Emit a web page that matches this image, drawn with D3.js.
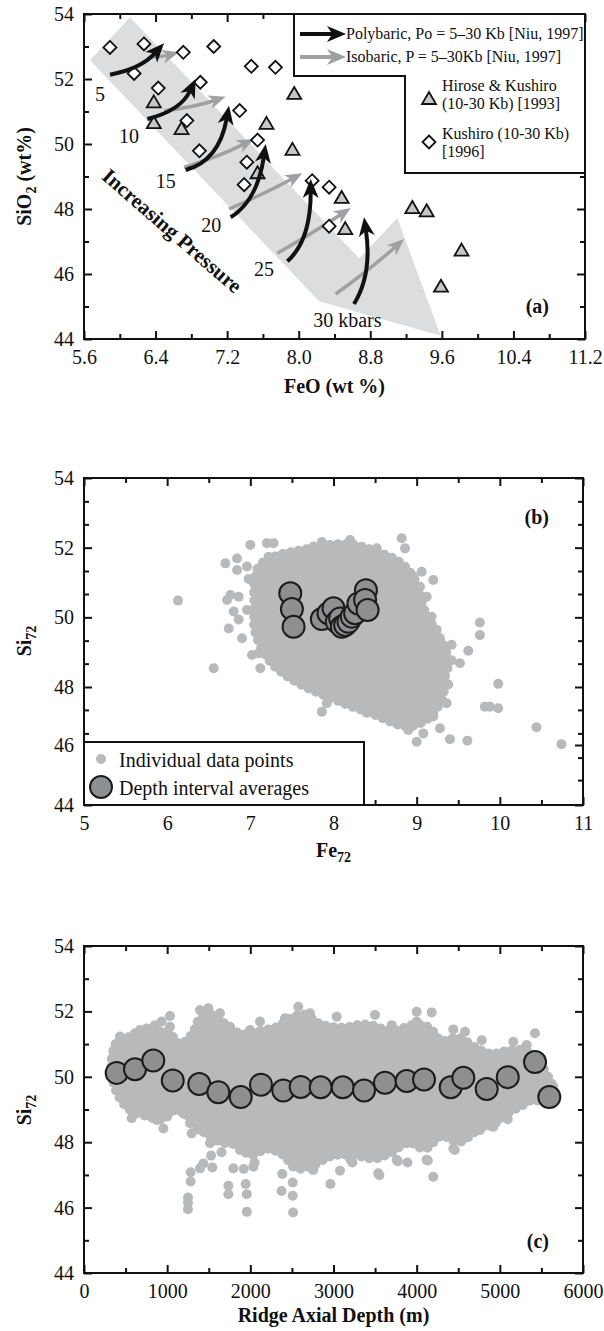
<!DOCTYPE html>
<html>
<head>
<meta charset="utf-8">
<script src="https://cdn.jsdelivr.net/npm/d3@7"></script>
<style>
body{margin:0;background:#fff}
svg{display:block}
</style>
</head>
<body>
<div id="chart"></div>
<script>
var serif='"Liberation Serif","Times New Roman",serif';
var ink='#111';
var cloudGray='#b8b9bb';
var bandGray='#dcdddf';
var isoGray='#9fa0a2';
var avgFill='#8e8f91';

// ---- panel (a) : FeO vs SiO2
var aXTicks=[5.6,6.4,7.2,8.0,8.8,9.6,10.4,11.2];
var aXMinor=[6.0,6.8,7.6,8.4,9.2,10.0,10.8];
var aYTicks=[44,46,48,50,52,54];
var aYMinor=[45,47,49,51,53];

var kushiroFe=[5.89,6.27,6.16,6.71,7.05,6.43,6.90,7.47,7.74,6.75,7.34,6.89,7.54,7.42,7.39,8.15,8.34,8.34];
var kushiroSi=[52.97,53.08,52.17,52.82,53.00,51.72,51.90,52.39,52.36,50.72,51.03,49.79,50.12,49.44,48.75,48.87,48.67,47.47];

var hiroseFe=[6.38,6.38,6.69,7.95,7.64,7.93,7.54,8.48,8.52,9.27,9.43,9.82,9.59];
var hiroseSi=[51.28,50.64,50.46,51.54,50.62,49.82,49.10,48.34,47.38,48.03,47.93,46.72,45.61];

// wide "increasing pressure" band
var bandFe=[6.114,8.677,9.102,9.587,8.227,5.667];
var bandSi=[53.90,46.48,47.72,44.10,45.16,52.58];

// melting paths: [start, bend, tip]
var polyArrows=[
  [[5.891,52.133],[6.233,52.308],[6.494,53.097]],
  [[6.308,50.769],[6.680,51.026],[6.848,52.000]],
  [[6.736,49.200],[7.109,49.487],[7.221,51.179]],
  [[7.239,47.744],[7.537,48.256],[7.631,50.000]],
  [[7.873,46.390],[8.134,47.026],[8.134,48.923]],
  [[8.618,45.077],[8.823,46.000],[8.730,47.744]]
];
var isoArrows=[
  [[6.327,52.667],[6.494,52.700],[6.662,52.821]],
  [[6.494,51.026],[6.829,51.128],[7.183,51.456]],
  [[6.718,49.282],[7.090,49.590],[7.500,50.154]],
  [[7.221,48.000],[7.612,48.462],[8.040,49.097]],
  [[7.761,46.636],[8.171,47.282],[8.581,48.031]],
  [[8.413,45.385],[8.804,46.154],[9.177,47.077]]
];
var pressureLabels=['5','10','15','20','25','30 kbars'];
var pressureFe=[5.779,6.103,6.513,7.023,7.612,8.543];
var pressureSi=[51.54,50.26,48.87,47.52,46.15,44.59];

// ---- panel (b) : Fe72 vs Si72
var bXTicks=[5,6,7,8,9,10,11];
var bXMinor=[5.5,6.5,7.5,8.5,9.5,10.5];
var bYTicks=[54,52,50,48,46,44];
var bYMinor=[53.33,52.67,51.33,50.67,49.33,48.67,47.21,46.40,45.58,44.83];

var avgBFe=[7.48,7.50,7.52,7.86,7.94,8.00,8.04,8.08,8.10,8.14,8.18,8.22,8.26,8.30,8.39,8.38,8.41];
var avgBSi=[50.69,50.24,49.73,49.95,50.12,50.26,49.87,49.97,49.73,49.78,49.87,50.02,50.12,50.40,50.78,50.50,50.21];

var denseBFe=[7.10,7.30,7.55,7.80,8.05,8.30,8.55,8.75,8.90,9.00,9.05,9.12,9.22,9.32,9.38,9.33,9.32,9.25,9.15,9.00,8.85,8.65,8.45,8.20,7.95,7.70,7.45,7.25,7.12,7.05,7.05,7.05];
var denseBSi=[51.45,51.75,51.90,52.00,52.10,52.05,51.85,51.65,51.35,50.95,50.50,50.05,49.65,49.20,48.70,48.20,47.75,47.30,46.95,46.70,46.65,46.85,47.10,47.35,47.65,47.95,48.30,48.70,49.20,49.70,50.30,50.90];

var ptsBFe=[6.13,6.56,7.00,7.20,7.28,6.70,6.84,6.84,6.96,6.72,6.76,6.86,6.96,6.80,6.86,6.74,6.90,7.10,7.02,7.12,7.22,7.08,7.04,6.98,
  8.82,8.86,9.06,9.20,8.96,9.04,9.12,9.76,9.76,9.62,9.42,9.28,9.42,9.52,9.24,9.18,7.76,7.86,8.20,8.32,8.52,8.44,
  9.98,9.82,9.88,9.98,10.44,10.74,9.00,9.40,9.61,9.28,8.90,9.08,9.36,9.38,8.40,7.86,7.92,9.20];
var ptsBSi=[50.48,48.54,52.08,52.13,52.13,51.55,51.69,51.36,51.46,50.50,50.64,50.59,50.21,50.17,49.94,49.68,49.40,48.97,48.92,48.54,51.74,51.17,51.00,51.10,
  52.27,51.98,51.31,51.07,51.17,50.88,50.59,49.85,49.49,49.04,49.21,49.35,48.77,48.68,49.64,50.02,52.03,52.16,52.22,51.94,51.98,51.79,
  48.09,47.32,47.32,47.27,46.61,46.03,46.11,46.20,46.15,46.58,46.52,46.40,47.44,48.07,47.11,47.15,47.44,46.98];

// ---- panel (c) : ridge depth vs Si72
var cXTicks=[0,1000,2000,3000,4000,5000,6000];
var cXMinor=[500,1500,2500,3500,4500,5500];
var cYTicks=[44,46,48,50,52,54];
var cYMinor=[45,47,49,51,53];

var avgDepth=[393,613,833,1067,1386,1615,1884,2128,2396,2606,2846,3111,3367,3619,3880,4088,4409,4561,4842,5095,5423,5595];
var avgSiC=[50.12,50.23,50.50,49.89,49.78,49.53,49.38,49.76,49.58,49.69,49.68,49.68,49.58,49.82,49.87,49.92,49.68,49.97,49.63,49.99,50.45,49.38];

var denseCDepth=[330,380,450,600,800,1000,1150,1300,1400,1550,1700,1900,2100,2300,2500,2650,2850,3100,3400,3700,4000,4150,4300,4500,4700,4900,5100,5300,5450,5600,5650,
  5550,5400,5250,5100,4950,4750,4500,4300,4100,3900,3700,3500,3250,3000,2750,2550,2400,2200,2000,1850,1650,1500,1350,1250,1100,950,750,550,400];
var denseCSi=[50.3,51.0,51.2,51.2,51.3,51.4,51.0,51.3,51.8,51.9,51.6,51.3,51.4,51.5,51.8,51.9,51.6,51.5,51.6,51.4,51.6,51.5,51.1,51.2,50.9,50.7,50.8,50.8,50.5,49.9,49.5,
  49.2,49.3,49.1,48.9,48.6,48.4,48.0,48.2,47.8,48.0,47.7,47.5,47.6,47.6,47.3,47.2,47.6,47.8,47.6,47.9,48.0,48.2,48.5,48.8,49.0,48.7,48.8,49.0,49.5];

var ptsCDepth=[433,373,353,473,573,613,673,754,854,934,1034,1034,954,854,774,874,1154,1194,1134,693,1094,
  1395,1495,1635,1755,2116,2236,2417,2577,2717,1996,2477,3038,3499,3700,4000,4181,4000,
  1275,1295,1395,1515,1655,1755,1876,2236,2517,1395,1435,1796,2036,
  1250,1250,1250,1282,1282,1528,1542,1653,1736,1736,1921,1944,1958,1958,2051,2375,2384,2509,2509,2514,2963,3079,3227,3551,3773,3889,4134,4199,4458,2708,
  4441,4581,4782,5162,5423,5323,5423,5643,5095,5242,4921,4761,4601,4441,4320,4120,3880,3760,3538,3206,2958,2757];
var ptsCSi=[51.23,50.82,49.90,50.21,48.73,51.33,51.43,51.48,51.58,51.69,51.86,51.53,48.42,49.19,48.93,48.68,50.21,48.88,49.53,49.39,49.19,
  52.04,52.10,51.94,51.53,51.69,51.43,51.79,52.14,51.94,51.43,51.23,51.84,51.89,51.58,51.99,51.97,51.69,
  48.58,48.27,48.38,47.97,48.38,48.32,47.76,47.97,47.35,47.20,47.35,47.20,47.25,
  45.95,46.15,46.31,46.80,47.08,47.59,47.23,47.69,46.41,46.67,47.18,46.72,46.41,45.87,47.38,46.51,47.03,46.36,46.77,45.85,46.72,47.13,47.38,46.99,47.42,47.38,47.44,46.94,47.76,47.33,
  51.45,51.38,51.12,51.07,51.33,50.97,49.90,49.70,48.70,49.39,48.47,48.37,48.57,47.81,48.47,47.46,47.97,47.46,47.05,47.46,47.66,47.15];

var svg=d3.select('#chart').append('svg').attr('width',604).attr('height',1331)
  .style('font-family',serif);

function axes(g,x,y,xt,xm,yt,ym,fmt){
  var xr=x.range(), yr=y.range();
  var bottom=yr[0], top=yr[yr.length-1];
  var parts=[
    [d3.axisBottom(x).tickValues(xt).tickSize(-8).tickPadding(11).tickFormat(fmt),'translate(0,'+bottom+')'],
    [d3.axisBottom(x).tickValues(xm).tickSize(-5).tickFormat(''),'translate(0,'+bottom+')'],
    [d3.axisTop(x).tickValues(xt).tickSize(-8).tickFormat(''),'translate(0,'+top+')'],
    [d3.axisTop(x).tickValues(xm).tickSize(-5).tickFormat(''),'translate(0,'+top+')'],
    [d3.axisLeft(y).tickValues(yt).tickSize(-8).tickPadding(10),'translate('+xr[0]+',0)'],
    [d3.axisLeft(y).tickValues(ym).tickSize(-5).tickFormat(''),'translate('+xr[0]+',0)'],
    [d3.axisRight(y).tickValues(yt).tickSize(-8).tickFormat(''),'translate('+xr[1]+',0)'],
    [d3.axisRight(y).tickValues(ym).tickSize(-5).tickFormat(''),'translate('+xr[1]+',0)']
  ];
  parts.forEach(function(p){
    g.append('g').attr('transform',p[1]).call(p[0])
     .attr('font-family',serif).attr('font-size',20);
  });
  g.selectAll('.domain').remove();
  g.selectAll('.tick line').attr('stroke',ink).attr('stroke-width',2);
  g.selectAll('.tick text').attr('fill',ink);
}

function frame(g,x,y){
  var xr=x.range(), yr=y.range();
  g.append('rect').attr('x',xr[0]).attr('y',yr[yr.length-1])
   .attr('width',xr[1]-xr[0]).attr('height',yr[0]-yr[yr.length-1])
   .attr('fill','none').attr('stroke',ink).attr('stroke-width',2);
}

function arrow(g,pts,x,y,color,lw,hl,hw){
  var s=[x(pts[0][0]),y(pts[0][1])], c=[x(pts[1][0]),y(pts[1][1])], e=[x(pts[2][0]),y(pts[2][1])];
  var dx=e[0]-c[0], dy=e[1]-c[1], len=Math.hypot(dx,dy);
  var ux=dx/len, uy=dy/len;
  var bx=e[0]-ux*hl, by=e[1]-uy*hl;
  var p=d3.path();
  p.moveTo(s[0],s[1]);
  p.quadraticCurveTo(c[0],c[1],bx+ux*hl*0.3,by+uy*hl*0.3);
  g.append('path').attr('d',p.toString()).attr('fill','none')
   .attr('stroke',color).attr('stroke-width',lw);
  g.append('path')
   .attr('d','M'+e+'L'+[bx-uy*hw,by+ux*hw]+'L'+[bx+ux*hl*0.28,by+uy*hl*0.28]+'L'+[bx+uy*hw,by-ux*hw]+'Z')
   .attr('fill',color);
}

function cloud(g,denseX,denseY,ptX,ptY,x,y){
  var ring=d3.line().curve(d3.curveCatmullRomClosed)
    .x(function(d,i){return x(denseX[i])}).y(function(d,i){return y(denseY[i])});
  // solid core of overlapping points
  g.append('path').attr('d',ring(denseX))
   .attr('fill',cloudGray).attr('stroke',cloudGray).attr('stroke-width',4).attr('stroke-linejoin','round');
  // scalloped rim: a row of round dots along the edge of the core
  g.append('path').attr('d',ring(denseX))
   .attr('fill','none').attr('stroke',cloudGray).attr('stroke-width',10)
   .attr('stroke-linecap','round').attr('stroke-dasharray','0,8');
  g.append('g').selectAll('circle').data(ptX).enter().append('circle')
   .attr('cx',function(d){return x(d)})
   .attr('cy',function(d,i){return y(ptY[i])})
   .attr('r',5).attr('fill',cloudGray);
}

function subTitle(g,main,sub,rest,attrs){
  var t=g.append('text').attr('font-weight','bold').attr('font-size',20).attr('fill',ink);
  Object.keys(attrs).forEach(function(k){t.attr(k,attrs[k])});
  t.append('tspan').text(main);
  t.append('tspan').attr('font-size',14).attr('dy',5).text(sub);
  if(rest) t.append('tspan').attr('dy',-5).text(rest);
  return t;
}

var diamond='M0,-6.5L6.5,0L0,6.5L-6.5,0Z';
var triangle='M0,-7L7,5L-7,5Z';

// ================= panel (a)
var xA=d3.scaleLinear().domain([5.6,11.2]).range([84,585]);
var yA=d3.scaleLinear().domain([44,54]).range([339,14]);
var ga=svg.append('g');

ga.append('path')
  .attr('d',d3.line().x(function(d,i){return xA(bandFe[i])}).y(function(d,i){return yA(bandSi[i])})(bandFe)+'Z')
  .attr('fill',bandGray);

isoArrows.forEach(function(a){arrow(ga,a,xA,yA,isoGray,3.5,17,7)});

ga.append('g').selectAll('path').data(hiroseFe).enter().append('path')
  .attr('d',triangle)
  .attr('transform',function(d,i){return 'translate('+xA(d)+','+yA(hiroseSi[i])+')'})
  .attr('fill','#c6c7c9').attr('stroke',ink).attr('stroke-width',1.8);

ga.append('g').selectAll('path').data(kushiroFe).enter().append('path')
  .attr('d',diamond)
  .attr('transform',function(d,i){return 'translate('+xA(d)+','+yA(kushiroSi[i])+')'})
  .attr('fill','#fff').attr('stroke',ink).attr('stroke-width',1.8);

polyArrows.forEach(function(a){arrow(ga,a,xA,yA,ink,4,19,8)});

ga.append('g').selectAll('text').data(pressureLabels).enter().append('text')
  .attr('x',function(d,i){return xA(pressureFe[i])})
  .attr('y',function(d,i){return yA(pressureSi[i])})
  .attr('dy','0.35em').attr('text-anchor','middle').attr('font-size',20).attr('fill',ink)
  .text(function(d){return d});

ga.append('text').attr('transform','translate('+xA(6.587)+','+yA(47.333)+') rotate(41)')
  .attr('text-anchor','middle').attr('dy','0.35em').attr('font-size',21).attr('font-weight','bold')
  .attr('fill',ink).text('Increasing Pressure');

axes(ga,xA,yA,aXTicks,aXMinor,aYTicks,aYMinor,d3.format('.1f'));

// legend (a)
ga.append('path').attr('d','M294,14H585V173H405V76H294Z')
  .attr('fill','#fff').attr('stroke',ink).attr('stroke-width',2);
var ident=function(v){return v};
arrow(ga,[[300,34],[320,34],[346,34]],ident,ident,ink,4,19,8);
arrow(ga,[[300,57],[320,57],[346,57]],ident,ident,isoGray,4,19,8);
ga.append('text').attr('x',346).attr('y',39).attr('font-size',16).attr('fill',ink)
  .text('Polybaric, Po = 5\u201330 Kb [Niu, 1997]');
ga.append('text').attr('x',346).attr('y',62).attr('font-size',16).attr('fill',ink)
  .text('Isobaric, P = 5\u201330Kb [Niu, 1997]');
ga.append('path').attr('d',triangle).attr('transform','translate(429,99)')
  .attr('fill','#c6c7c9').attr('stroke',ink).attr('stroke-width',1.8);
ga.append('path').attr('d',diamond).attr('transform','translate(429,142)')
  .attr('fill','#fff').attr('stroke',ink).attr('stroke-width',1.8);
[['Hirose & Kushiro',91],['(10-30 Kb) [1993]',109],['Kushiro (10-30 Kb)',139],['[1996]',157]].forEach(function(r){
  ga.append('text').attr('x',442).attr('y',r[1]).attr('font-size',16).attr('fill',ink).text(r[0]);
});

ga.append('text').attr('x',549).attr('y',313).attr('text-anchor','end')
  .attr('font-size',20).attr('font-weight','bold').attr('fill',ink).text('(a)');
frame(ga,xA,yA);

ga.append('text').attr('x',334.5).attr('y',393).attr('text-anchor','middle')
  .attr('font-size',20).attr('font-weight','bold').attr('fill',ink).text('FeO (wt %)');
subTitle(ga,'SiO','2',' (wt%)',{'transform':'translate(31,176.5) rotate(-90)','text-anchor':'middle'});

// ================= panel (b)
var xB=d3.scaleLinear().domain([5,11]).range([84,583]);
var yB=d3.scaleLinear().domain([44,46,48,54]).range([805,745,687,478]);
var gb=svg.append('g');

cloud(gb,denseBFe,denseBSi,ptsBFe,ptsBSi,xB,yB);

gb.append('g').selectAll('circle').data(avgBFe).enter().append('circle')
  .attr('cx',function(d){return xB(d)})
  .attr('cy',function(d,i){return yB(avgBSi[i])})
  .attr('r',11).attr('fill',avgFill).attr('stroke','#1c1c1c').attr('stroke-width',2);

axes(gb,xB,yB,bXTicks,bXMinor,bYTicks,bYMinor,d3.format('d'));

gb.append('rect').attr('x',84).attr('y',742).attr('width',280).attr('height',63)
  .attr('fill','#fff').attr('stroke',ink).attr('stroke-width',2);
gb.append('circle').attr('cx',101).attr('cy',759).attr('r',5).attr('fill',cloudGray);
gb.append('circle').attr('cx',101).attr('cy',787).attr('r',11)
  .attr('fill',avgFill).attr('stroke','#1c1c1c').attr('stroke-width',2);
gb.append('text').attr('x',119).attr('y',767).attr('font-size',20).attr('fill',ink).text('Individual data points');
gb.append('text').attr('x',119).attr('y',795).attr('font-size',20).attr('fill',ink).text('Depth interval averages');

gb.append('text').attr('x',549).attr('y',524).attr('text-anchor','end')
  .attr('font-size',20).attr('font-weight','bold').attr('fill',ink).text('(b)');
frame(gb,xB,yB);

subTitle(gb,'Fe','72',null,{'x':333.5,'y':857,'text-anchor':'middle'});
subTitle(gb,'Si','72',null,{'transform':'translate(31,641) rotate(-90)','text-anchor':'middle'});

// ================= panel (c)
var xC=d3.scaleLinear().domain([0,6000]).range([84,583]);
var yC=d3.scaleLinear().domain([44,54]).range([1273,946]);
var gc=svg.append('g');

cloud(gc,denseCDepth,denseCSi,ptsCDepth,ptsCSi,xC,yC);

gc.append('g').selectAll('circle').data(avgDepth).enter().append('circle')
  .attr('cx',function(d){return xC(d)})
  .attr('cy',function(d,i){return yC(avgSiC[i])})
  .attr('r',11).attr('fill',avgFill).attr('stroke','#1c1c1c').attr('stroke-width',2);

axes(gc,xC,yC,cXTicks,cXMinor,cYTicks,cYMinor,d3.format('d'));

gc.append('text').attr('x',549).attr('y',1248).attr('text-anchor','end')
  .attr('font-size',20).attr('font-weight','bold').attr('fill',ink).text('(c)');
frame(gc,xC,yC);

gc.append('text').attr('x',333.5).attr('y',1322).attr('text-anchor','middle')
  .attr('font-size',20).attr('font-weight','bold').attr('fill',ink).text('Ridge Axial Depth (m)');
subTitle(gc,'Si','72',null,{'transform':'translate(31,1110) rotate(-90)','text-anchor':'middle'});
</script>
</body>
</html>
